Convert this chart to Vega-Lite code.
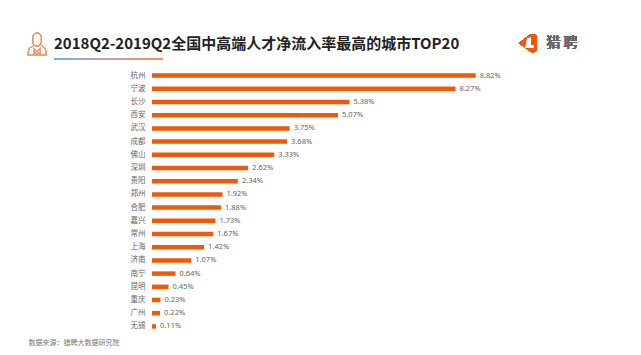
{
  "$schema": "https://vega.github.io/schema/vega-lite/v6.json",
  "width": 367,
  "height": 264,
  "autosize": {"type": "none"},
  "padding": {"left": 152, "top": 69, "right": 122, "bottom": 22},
  "background": "white",
  "config": {"view": {"stroke": null}, "font": "Noto Sans CJK SC"},
  "title": {
    "text": "2018Q2-2019Q2全国中高端人才净流入率最高的城市TOP20",
    "anchor": "start",
    "frame": "group",
    "dx": -98,
    "dy": 38,
    "offset": 17,
    "font": "Noto Sans CJK SC",
    "fontSize": 15,
    "fontWeight": "bold",
    "color": "#222222"
  },
  "data": {
    "values": [
      {"city": "杭州", "rate": 0.0882},
      {"city": "宁波", "rate": 0.0827},
      {"city": "长沙", "rate": 0.0538},
      {"city": "西安", "rate": 0.0507},
      {"city": "武汉", "rate": 0.0375},
      {"city": "成都", "rate": 0.0368},
      {"city": "佛山", "rate": 0.0333},
      {"city": "深圳", "rate": 0.0262},
      {"city": "贵阳", "rate": 0.0234},
      {"city": "郑州", "rate": 0.0192},
      {"city": "合肥", "rate": 0.0188},
      {"city": "嘉兴", "rate": 0.0173},
      {"city": "常州", "rate": 0.0167},
      {"city": "上海", "rate": 0.0142},
      {"city": "济南", "rate": 0.0107},
      {"city": "南宁", "rate": 0.0064},
      {"city": "昆明", "rate": 0.0045},
      {"city": "重庆", "rate": 0.0023},
      {"city": "广州", "rate": 0.0022},
      {"city": "无锡", "rate": 0.0011}
    ]
  },
  "encoding": {
    "y": {
      "field": "city",
      "type": "nominal",
      "sort": null,
      "scale": {"paddingInner": 0.6, "paddingOuter": 0.3},
      "axis": {
        "title": null,
        "domain": false,
        "ticks": false,
        "labelPadding": 7,
        "labelFontSize": 7.5,
        "labelColor": "#666666",
        "labelFont": "Noto Sans CJK SC"
      }
    }
  },
  "layer": [
    {
      "mark": {"type": "bar", "size": 4.5, "color": "#EE5A0A"},
      "encoding": {
        "x": {
          "field": "rate",
          "type": "quantitative",
          "scale": {"domain": [0, 0.1]},
          "axis": {
            "title": "数据来源：猎聘大数据研究院",
            "titleX": -124,
            "titleY": 9,
            "titleAlign": "left",
            "titleBaseline": "middle",
            "titleFontSize": 7,
            "titleFontWeight": "normal",
            "titleColor": "#777777",
            "titleFont": "Noto Sans CJK SC",
            "domain": false,
            "ticks": false,
            "labels": false,
            "grid": false
          }
        }
      }
    },
    {
      "mark": {"type": "text", "align": "left", "baseline": "middle", "dx": 4, "fontSize": 7.5, "color": "#666666", "font": "Noto Sans"},
      "encoding": {
        "x": {"field": "rate", "type": "quantitative"},
        "text": {"field": "rate", "type": "quantitative", "format": ".2%"}
      }
    },
    {
      "mark": {
        "type": "bar",
        "size": 1.2,
        "yOffset": -17,
        "color": {
          "gradient": "linear",
          "x1": 0, "x2": 1, "y1": 0, "y2": 0,
          "stops": [
            {"offset": 0, "color": "#6FB1EE"},
            {"offset": 0.5, "color": "#C79AA8"},
            {"offset": 1, "color": "#F2905A"}
          ]
        }
      },
      "encoding": {
        "x": {"datum": -0.0267},
        "x2": {"datum": 0.003},
        "y": {"datum": "杭州"}
      }
    },
    {
      "mark": {
        "type": "point",
        "shape": "M-0.38,-0.5 A0.4,0.45 0 1 1 0.38,-0.5 A0.4,0.45 0 1 1 -0.38,-0.5 Z M-0.3,-0.05 L-0.75,0.35 L-0.85,0.9 L0.85,0.9 L0.75,0.35 L0.3,-0.05 M-0.3,0.3 L0,0.55 L0.3,0.3 L0.3,0.75 L-0.3,0.75 Z",
        "size": 484,
        "filled": false,
        "stroke": "#E8A27A",
        "strokeWidth": 1,
        "opacity": 1,
        "yOffset": -30.5
      },
      "encoding": {
        "x": {"datum": -0.0313},
        "y": {"datum": "杭州"}
      }
    },
    {
      "mark": {
        "type": "point",
        "shape": "M-1,0 L0.35,-1 Q1,-1.1 1,-0.6 L1,0.6 Q1,1.1 0.35,1 Z",
        "size": 324,
        "filled": true,
        "fill": "#F0560F",
        "opacity": 1,
        "yOffset": -32.5
      },
      "encoding": {
        "x": {"datum": 0.1024},
        "y": {"datum": "杭州"}
      }
    },
    {
      "mark": {
        "type": "point",
        "shape": "M-0.05,-0.5 L0.3,-0.6 L0.3,0.2 L0.6,0.2 L0.6,0.5 L-0.25,0.5 Z",
        "size": 324,
        "filled": true,
        "fill": "#FFFFFF",
        "opacity": 1,
        "yOffset": -32.5
      },
      "encoding": {
        "x": {"datum": 0.1024},
        "y": {"datum": "杭州"}
      }
    },
    {
      "mark": {
        "type": "text",
        "text": "猎 聘",
        "align": "center",
        "baseline": "middle",
        "fontSize": 14,
        "fontWeight": "normal",
        "color": "#666666",
        "font": "Noto Sans CJK SC",
        "yOffset": -32.5
      },
      "encoding": {
        "x": {"datum": 0.1117},
        "y": {"datum": "杭州"}
      }
    }
  ]
}
